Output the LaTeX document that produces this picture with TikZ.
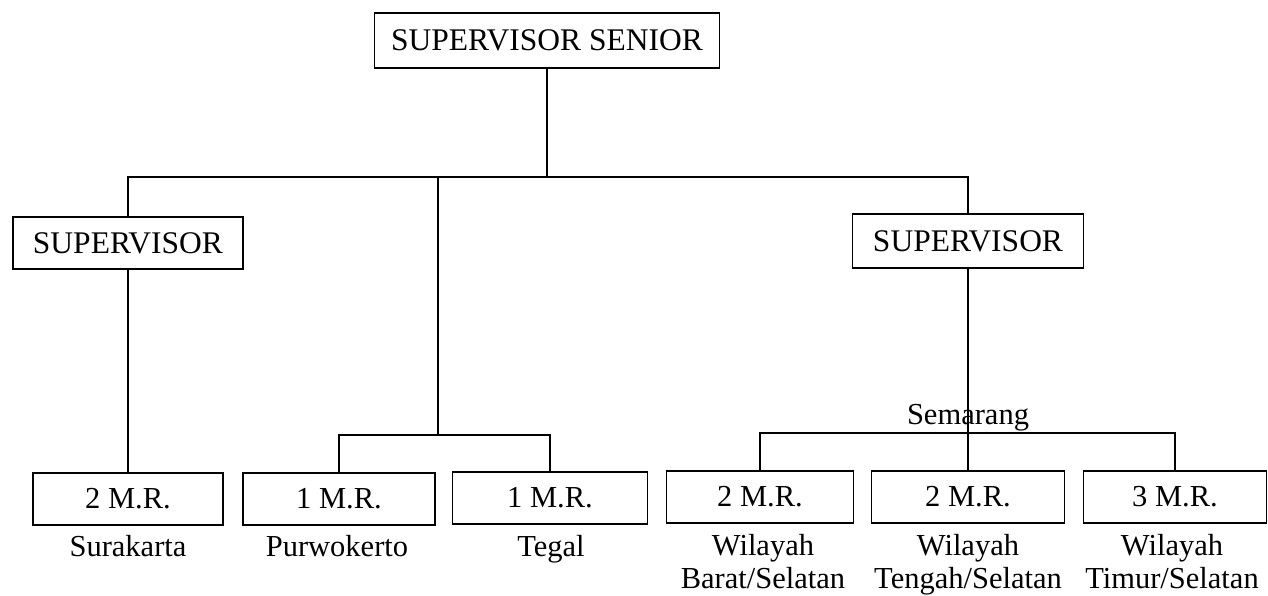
\documentclass[tikz,border=0pt]{standalone}
\usepackage{fontspec}
\setmainfont{Liberation Serif}
\begin{document}
\begin{tikzpicture}[x=1pt,y=-1pt,
  bx/.style={draw, line width=1.2pt, inner sep=0pt, align=center},
  bigtxt/.style={font=\fontsize{31.5}{36}\selectfont},
  smtxt/.style={font=\fontsize{30.5}{33}\selectfont},
  lbl/.style={anchor=north, align=center, inner sep=0pt, font=\fontsize{30.5}{33}\selectfont},
  conn/.style={line width=1.2pt}]
\useasboundingbox (0,0) rectangle (1268,596);
% top
\node[bx, bigtxt, minimum width=345pt, minimum height=55pt] (sen) at (547,40.5) {SUPERVISOR SENIOR};
\node[bx, bigtxt, minimum width=230pt, minimum height=52pt] (supL) at (128,243) {SUPERVISOR};
\node[bx, bigtxt, minimum width=231pt, minimum height=54pt] (supR) at (968,241) {SUPERVISOR};
% bottom boxes
\node[bx, smtxt, minimum width=190pt, minimum height=52pt] (b1) at (128,499) {2 M.R.};
\node[bx, smtxt, minimum width=192pt, minimum height=52pt] (b2) at (339,499) {1 M.R.};
\node[bx, smtxt, minimum width=195pt, minimum height=52pt] (b3) at (550,498) {1 M.R.};
\node[bx, smtxt, minimum width=187pt, minimum height=52pt] (b4) at (760,497) {2 M.R.};
\node[bx, smtxt, minimum width=193pt, minimum height=52pt] (b5) at (968,497) {2 M.R.};
\node[bx, smtxt, minimum width=183pt, minimum height=52pt] (b6) at (1175,497) {3 M.R.};
% labels
\node[lbl] (l1) at (128,535) {Surakarta};
\node[lbl] (l2) at (337,535) {Purwokerto};
\node[lbl] (l3) at (551,535) {Tegal};
\node[lbl] (l4) at (763,534) {Wilayah\\Barat/Selatan};
\node[lbl] (l5) at (968,534) {Wilayah\\Tengah/Selatan};
\node[lbl] (l6) at (1172,534) {Wilayah\\Timur/Selatan};
% junctions
\coordinate (jM) at (438,177);
\coordinate (mb) at (438,435);
\coordinate (sb) at (968,433);
% connectors
\draw[conn] (sen.south) -- (sen.south |- jM);
\draw[conn] (supL.north) |- (jM) -| (supR.north);
\draw[conn] (jM) -- (mb);
\draw[conn] (b2.north) |- (mb) -| (b3.north);
\draw[conn] (supL.south) -- (b1.north);
\draw[conn] (supR.south) -- (b5.north);
\draw[conn] (b4.north) |- (sb) -| (b6.north);
\node[anchor=base, inner sep=0pt, font=\fontsize{30.5}{33}\selectfont] (sem) at (968,424) {Semarang};
\end{tikzpicture}
\end{document}
